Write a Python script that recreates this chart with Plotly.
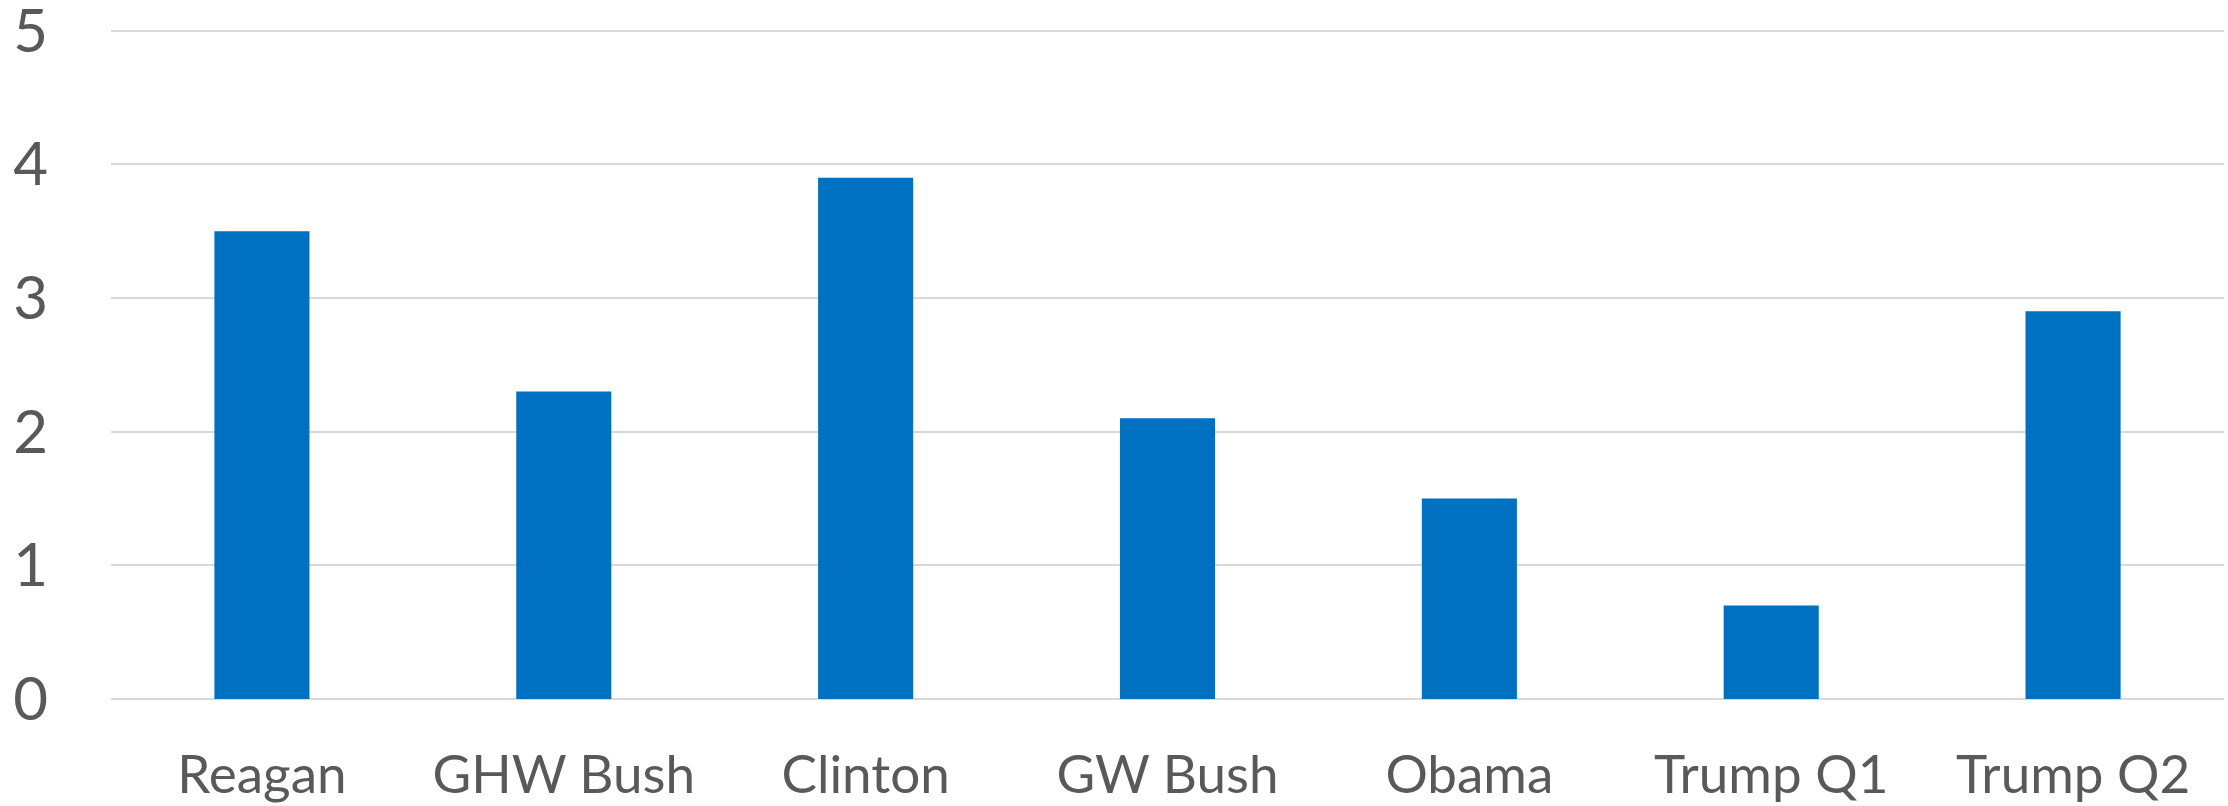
import plotly.graph_objects as go

# Average GDP growth by administration (%)
presidents = ["Reagan", "GHW Bush", "Clinton", "GW Bush", "Obama", "Trump Q1", "Trump Q2"]
growth = [3.5, 2.3, 3.9, 2.1, 1.5, 0.7, 2.9]
y_ticks = [0, 1, 2, 3, 4, 5]

BAR_COLOR = "#0070C0"
TEXT_COLOR = "#595959"
GRID_COLOR = "#D9D9D9"
FONT = "Lato, 'Open Sans', sans-serif"

fig = go.Figure(
    go.Bar(
        x=presidents,
        y=growth,
        marker=dict(color=BAR_COLOR, line=dict(width=0)),
        hoverinfo="x+y",
    )
)

fig.update_layout(
    width=2228,
    height=806,
    margin=dict(l=111, r=4, t=28, b=107, autoexpand=False),
    paper_bgcolor="white",
    plot_bgcolor="white",
    bargap=0.685,
    showlegend=False,
    font=dict(family=FONT, color=TEXT_COLOR),
)

fig.update_xaxes(
    automargin=False,
    showgrid=False,
    showline=False,
    zeroline=False,
    ticks="",
    tickfont=dict(size=53, color=TEXT_COLOR, family=FONT),
    ticklabelstandoff=40,
)

# a little headroom above 5 so the top gridline and its label are kept
fig.update_yaxes(
    automargin=False,
    range=[0, 5.02],
    tickvals=y_ticks,
    ticktext=[str(v) for v in y_ticks],
    showgrid=True,
    gridcolor=GRID_COLOR,
    gridwidth=2,
    zeroline=True,
    zerolinecolor=GRID_COLOR,
    zerolinewidth=2,
    showline=False,
    ticks="",
    tickfont=dict(size=60, color=TEXT_COLOR, family=FONT),
    ticklabelstandoff=62,
    ticklabeloverflow="allow",
)

fig.write_html("out.html")
